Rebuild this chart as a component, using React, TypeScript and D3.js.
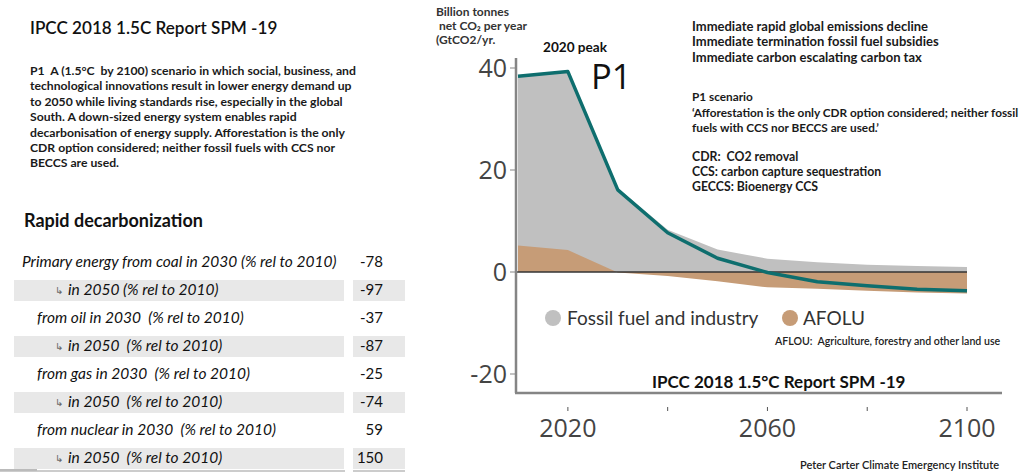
import * as d3 from "d3";

const W = 1031;
const H = 473;

// emissions data (GtCO2/yr)
const years = [2010, 2020, 2030, 2040, 2050, 2060, 2070, 2080, 2090, 2100];
const fossil = [38.5, 39.3, 16.4, 8.3, 4.4, 2.6, 1.9, 1.4, 1.2, 1.0];
const afolu = [5.2, 4.3, -0.1, -0.8, -1.8, -3.0, -3.3, -3.7, -4.0, -4.2];
const net = [38.4, 39.3, 16.1, 7.7, 2.7, -0.1, -1.9, -2.7, -3.4, -3.7];

const yTicks = [40, 20, 0, -20];
const xTicks = [2020, 2040, 2060, 2080, 2100];
const xTickLabels = ["2020", "", "2060", "", "2100"];

// left table
const rowLabels = [
  "Primary energy from coal in 2030 (% rel to 2010)",
  "in 2050 (% rel to 2010)",
  "from oil in 2030  (% rel to 2010)",
  "in 2050  (% rel to 2010)",
  "from gas in 2030  (% rel to 2010)",
  "in 2050  (% rel to 2010)",
  "from nuclear in 2030  (% rel to 2010)",
  "in 2050  (% rel to 2010)",
];
const rowValues = ["-78", "-97", "-37", "-87", "-25", "-74", "59", "150"];

const introLines = [
  "P1  A (1.5\u00b0C  by 2100) scenario in which social, business, and",
  "technological innovations result in lower energy demand up",
  "to 2050 while living standards rise, especially in the global",
  "South. A down-sized energy system enables rapid",
  "decarbonisation of energy supply. Afforestation is the only",
  "CDR option considered; neither fossil fuels with CCS nor",
  "BECCS are used.",
];
const policyLines = [
  "Immediate rapid global emissions decline",
  "Immediate termination fossil fuel subsidies",
  "Immediate carbon escalating carbon tax",
];
const scenarioLines = [
  "P1 scenario",
  "\u2018Afforestation is the only CDR option considered; neither fossil",
  "fuels with CCS nor BECCS are used.\u2019",
];
const glossaryLines = [
  "CDR:  CO2 removal",
  "CCS: carbon capture sequestration",
  "GECCS: Bioenergy CCS",
];

const TXT = "Lato, 'Open Sans', sans-serif";
const NUM = "'Open Sans', 'Noto Sans', sans-serif";

const GREY = "#c0c0c0";
const ORANGE = "#c69c77";
const TEAL = "#0e6e6e";
const AXIS = "#858585";

export default function App() {
  const x = d3.scaleLinear().domain([2010, 2100]).range([518, 967]);
  const y = d3.scaleLinear().domain([-20, 40]).range([374, 68]);

  const idx = years.map((_, i) => i);
  const greyArea = d3
    .area<number>()
    .x((i) => x(years[i]))
    .y0(() => y(0))
    .y1((i) => y(fossil[i]))(idx);
  const orangeArea = d3
    .area<number>()
    .x((i) => x(years[i]))
    .y0(() => y(0))
    .y1((i) => y(afolu[i]))(idx);
  const netLine = d3
    .line<number>()
    .x((i) => x(years[i]))
    .y((i) => y(net[i]))(idx);

  const axisX = 516;
  const axisY = 393;

  const rowY = d3.scaleLinear().domain([0, 7]).range([262, 458]);

  return (
    <svg width={W} height={H} style={{ position: "absolute", left: 0, top: 0, background: "#fff" }}>
      {/* left side */}
      <text x={30} y={34} fontFamily={TXT} fontWeight={600} fontSize={17.1} fill="#111">
        IPCC 2018 1.5C Report SPM -19
      </text>
      {introLines.map((l, i) => (
        <text key={i} x={30} y={75 + i * 15.4} fontFamily={TXT} fontWeight={700} fontSize={12.2} fill="#1a1a1a" style={{ whiteSpace: "pre" }}>
          {l}
        </text>
      ))}
      <text x={24} y={227} fontFamily={TXT} fontWeight={700} fontSize={18} fill="#111">
        Rapid decarbonization
      </text>
      {rowLabels.map((l, i) => {
        const sub = i % 2 === 1;
        const cy = rowY(i);
        return (
          <g key={i}>
            {sub && <rect x={14} y={cy - 10} width={330} height={21} fill="#e8e8e8" />}
            {sub && <rect x={353} y={cy - 10} width={52} height={21} fill="#e8e8e8" />}
            {sub && (
              <text x={55} y={cy + 4} fontFamily="'DejaVu Sans', sans-serif" fontSize={10} fill="#666">
                {"\u21b3"}
              </text>
            )}
            <text
              x={sub ? 68 : i === 0 ? 22 : 37}
              y={cy + 5}
              fontFamily={TXT}
              fontStyle="italic"
              fontSize={15.5}
              fill="#111"
              style={{ whiteSpace: "pre" }}
            >
              {l}
            </text>
            <text x={383} y={cy + 5} textAnchor="end" fontFamily={TXT} fontSize={15} fill="#111">
              {rowValues[i]}
            </text>
          </g>
        );
      })}
      <line x1={0} x2={37} y1={470} y2={470} stroke="#777" strokeWidth={1} />
      <line x1={0} x2={345} y1={471} y2={471} stroke="#bbb" strokeWidth={1.5} />
      <line x1={353} x2={405} y1={471} y2={471} stroke="#bbb" strokeWidth={1.5} />

      {/* chart */}
      <path d={greyArea ?? ""} fill={GREY} />
      <path d={orangeArea ?? ""} fill={ORANGE} />
      <line x1={axisX} x2={x(2100)} y1={y(0)} y2={y(0)} stroke="#333" strokeWidth={1.6} />
      <path d={netLine ?? ""} fill="none" stroke={TEAL} strokeWidth={3.5} strokeLinejoin="round" />

      <line x1={axisX} x2={axisX} y1={58} y2={axisY} stroke={AXIS} strokeWidth={2.5} />
      <line x1={axisX - 1} x2={1002} y1={axisY} y2={axisY} stroke={AXIS} strokeWidth={2.5} />
      {yTicks.map((t) => (
        <g key={t}>
          <line x1={axisX - 6} x2={axisX} y1={y(t)} y2={y(t)} stroke={AXIS} strokeWidth={1} />
          <text
            x={axisX - 9}
            y={y(t)}
            dy="0.36em"
            textAnchor="end"
            fontFamily={NUM}
            fontSize={25}
            fill="#444"
          >
            {t}
          </text>
        </g>
      ))}
      {xTicks.map((t, i) => (
        <g key={t}>
          <line x1={x(t)} x2={x(t)} y1={407} y2={411} stroke="#555" strokeWidth={1} />
          <text x={x(t)} y={437} textAnchor="middle" fontFamily={NUM} fontSize={25} fill="#444">
            {xTickLabels[i]}
          </text>
        </g>
      ))}

      {/* axis title */}
      {["Billion tonnes", " net CO\u2082 per year", "(GtCO2/yr."].map((l, i) => (
        <text key={i} x={436} y={16 + i * 14} fontFamily={TXT} fontWeight={700} fontSize={12} fill="#333" style={{ whiteSpace: "pre" }}>
          {l}
        </text>
      ))}
      <text x={543} y={52} fontFamily={TXT} fontWeight={700} fontSize={13.6} fill="#111">
        2020 peak
      </text>
      <text x={591} y={89} fontFamily={NUM} fontSize={34.5} fill="#111">
        P1
      </text>

      {policyLines.map((l, i) => (
        <text key={i} x={692} y={31 + i * 15.3} fontFamily={TXT} fontWeight={700} fontSize={13} fill="#1a1a1a">
          {l}
        </text>
      ))}
      {scenarioLines.map((l, i) => (
        <text key={i} x={692} y={101 + i * 15.5} fontFamily={TXT} fontWeight={700} fontSize={11.8} fill="#1a1a1a">
          {l}
        </text>
      ))}
      {glossaryLines.map((l, i) => (
        <text key={i} x={692} y={161 + i * 15} fontFamily={TXT} fontWeight={700} fontSize={12.3} fill="#1a1a1a" style={{ whiteSpace: "pre" }}>
          {l}
        </text>
      ))}

      {/* legend */}
      <circle cx={553} cy={318} r={8} fill={GREY} />
      <text x={567} y={325} fontFamily={TXT} fontSize={19} fill="#333">
        Fossil fuel and industry
      </text>
      <circle cx={790} cy={318} r={8} fill={ORANGE} />
      <text x={803} y={325} fontFamily={TXT} fontSize={19} fill="#333">
        AFOLU
      </text>
      <text x={775} y={345} fontFamily={TXT} fontWeight={600} fontSize={10.6} fill="#222" style={{ whiteSpace: "pre" }}>
        AFLOU:  Agriculture, forestry and other land use
      </text>
      <text x={652} y={388} fontFamily={TXT} fontWeight={700} fontSize={17} fill="#111">
        IPCC 2018 1.5{"\u00b0"}C Report SPM -19
      </text>
      <text x={800} y={469} fontFamily={TXT} fontWeight={600} fontSize={11} fill="#222">
        Peter Carter Climate Emergency Institute
      </text>
    </svg>
  );
}
